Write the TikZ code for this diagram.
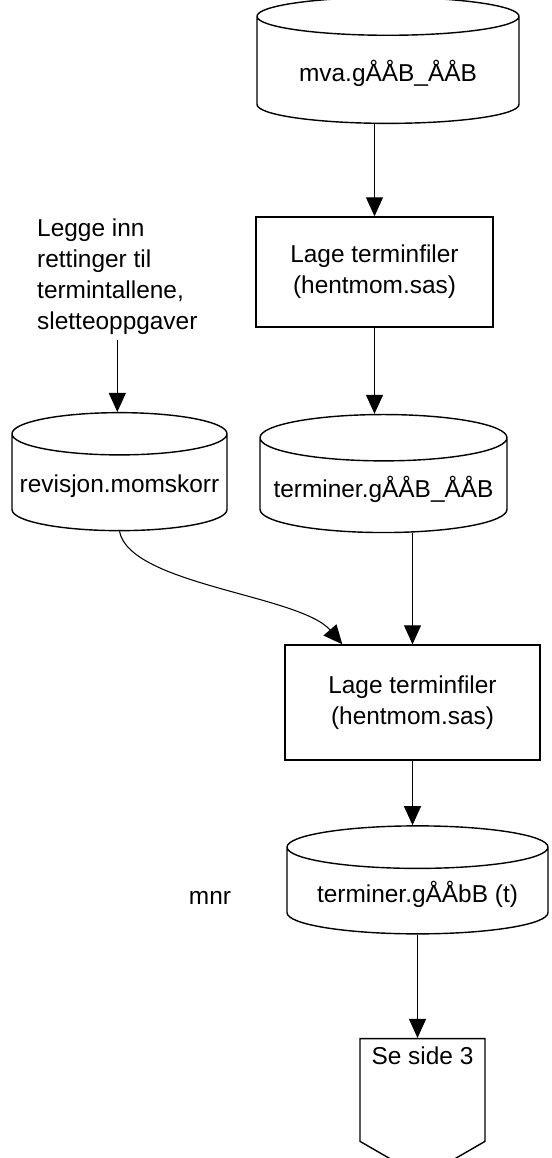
\documentclass[tikz,border=0pt]{standalone}
\usepackage{fontspec}
\setmainfont{Liberation Sans}
\usetikzlibrary{shapes.geometric,shapes.symbols,arrows.meta}

\begin{document}
\begin{tikzpicture}[
    every node/.style={font=\fontsize{13.9}{17.6}\selectfont},
    db/.style={draw, line width=0.8pt, cylinder, shape border rotate=90, aspect=0.2},
    proc/.style={draw, line width=0.8pt, rectangle},
    flow/.style={line width=0.6pt, -{Triangle[length=0.38cm,width=0.34cm]}}
  ]
    \useasboundingbox (0,0) rectangle (11.04,-23.16);

    % Files and steps
    \node[db, minimum width=5.24cm, minimum height=2.52cm] (mva) at (7.76,-1.46) {mva.gÅÅB\_ÅÅB};
    \node[proc, minimum width=4.74cm, minimum height=2.2cm, align=center] (lage1) at (7.49,-5.44) {Lage terminfiler\\(hentmom.sas)};
    \node[db, minimum width=4.94cm, minimum height=2.36cm] (term) at (7.67,-9.78) {terminer.gÅÅB\_ÅÅB};
    \node[anchor=north west, align=left] (rett) at (0.62,-4.25) {Legge inn\\rettinger til\\termintallene,\\sletteoppgaver};
    \node[db, minimum width=4.3cm, minimum height=2.36cm] (rev) at (2.39,-9.72) {revisjon.momskorr};
    \node[proc, minimum width=5.1cm, minimum height=2.3cm, align=center] (lage2) at (8.25,-14.05) {Lage terminfiler\\(hentmom.sas)};
    \node[db, minimum width=5.22cm, minimum height=2.16cm] (termt) at (8.35,-17.88) {terminer.gÅÅbB (t)};
    \node (mnr) at (4.2,-17.96) {mnr};
    \node[draw, line width=0.8pt, signal, signal to=south, signal pointer angle=120,
          minimum width=2.5cm, minimum height=2.3cm, text height=0.40cm, text depth=1.42cm] (side) at (8.45,-21.80) {Se side 3};

    % Arrows
    \draw[flow] (lage1.north |- mva.south) -- (lage1.north);
    \draw[flow] (lage1.south) -- (lage1.south |- term.north);
    \draw[flow] (rett.south) -- (rett.south |- rev.north);
    \draw[flow] (term.south -| lage2.north) -- (lage2.north);
    \coordinate (inn) at ([xshift=1.16cm]lage2.north west);
    \draw[flow] (rev.south) .. controls (2.6,-11.7) and (6.0,-11.9) .. (inn);
    \draw[flow] (lage2.south) -- (lage2.south |- termt.north);
    \draw[flow] (termt.south) -- (termt.south |- side.north);
\end{tikzpicture}
\end{document}
